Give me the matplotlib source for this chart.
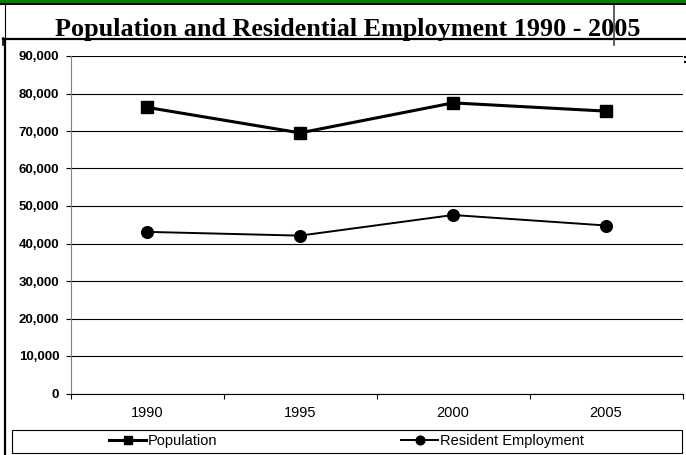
import matplotlib
matplotlib.use('Agg')
import matplotlib.pyplot as plt
from matplotlib.lines import Line2D
from matplotlib.patches import Rectangle
from matplotlib.ticker import FuncFormatter, FixedLocator

# ---- data ----
years = ['1990', '1995', '2000', '2005']
population = [76300, 69500, 77500, 75300]
employment = [43100, 42100, 47600, 44800]
y_ticks = [0, 10000, 20000, 30000, 40000, 50000, 60000, 70000, 80000, 90000]
title = 'Population and Residential Employment 1990 - 2005'
series_labels = ['Population', 'Resident Employment']

W, H = 686, 455
fig = plt.figure(figsize=(W / 100, H / 100), dpi=100)


def fx(x):
    return x / W


def fy(y):
    return 1 - y / H


# ---- decorations ----
fig.add_artist(Rectangle((0, fy(2.5)), 1, fy(0) - fy(2.5), transform=fig.transFigure,
                         facecolor='#008000', edgecolor='none'))
fig.add_artist(Rectangle((0, fy(4.5)), 1, fy(2.5) - fy(4.5), transform=fig.transFigure,
                         facecolor='black', edgecolor='none'))
fig.add_artist(Line2D([fx(5), fx(5)], [fy(4), fy(39)], transform=fig.transFigure,
                      color='black', lw=0.8))
fig.add_artist(Line2D([fx(5), fx(5)], [fy(39), fy(455)], transform=fig.transFigure,
                      color='black', lw=1.6))
fig.add_artist(Line2D([fx(3), fx(3)], [fy(38), fy(45)], transform=fig.transFigure,
                      color='black', lw=1.2))
fig.add_artist(Line2D([fx(3), fx(686)], [fy(39), fy(39)], transform=fig.transFigure,
                      color='black', lw=1.6))
fig.add_artist(Line2D([fx(613.5), fx(613.5)], [fy(5), fy(45)], transform=fig.transFigure,
                      color='#333333', lw=1.1))
fig.add_artist(Line2D([fx(685), fx(686)], [fy(57), fy(57)], transform=fig.transFigure,
                      color='black', lw=1.5))
fig.add_artist(Line2D([fx(685), fx(686)], [fy(62), fy(62)], transform=fig.transFigure,
                      color='black', lw=1.5))

# ---- title ----
fig.text(fx(347.5), fy(35.7), title, ha='center', va='baseline', fontsize=18.8,
         family='Liberation Serif', fontweight='bold')

# ---- axes ----
ax = fig.add_axes([fx(70.5), fy(393.5), fx(682.5) - fx(70.5), fy(56) - fy(393.5)])
x = list(range(len(years)))
l1, = ax.plot(x, population, color='black', lw=2.2, marker='s', ms=8.4,
              label=series_labels[0], clip_on=False, zorder=3)
l2, = ax.plot(x, employment, color='black', lw=1.4, marker='o', ms=8.4,
              label=series_labels[1], clip_on=False, zorder=3)
ax.set_xlim(-0.5, len(years) - 0.5)
ax.set_ylim(y_ticks[0], y_ticks[-1])
ax.set_yticks(y_ticks)
ax.yaxis.set_major_formatter(FuncFormatter(lambda v, p: f'{int(v):,}'))
ax.grid(axis='y', color='black', lw=0.8)
ax.set_axisbelow(True)
for s in ['top', 'right']:
    ax.spines[s].set_visible(False)
ax.spines['left'].set_color('#808080')
ax.spines['left'].set_linewidth(0.8)
ax.spines['bottom'].set_color('black')
ax.spines['bottom'].set_linewidth(0.8)

ax.set_xticks(x)
ax.set_xticklabels(years, family='Liberation Sans', fontsize=10.5)
ax.xaxis.set_minor_locator(FixedLocator([i - 0.5 for i in range(len(years) + 1)]))
ax.tick_params(axis='x', which='major', length=0, pad=9)
ax.tick_params(axis='x', which='minor', length=3.6, width=0.8, color='black', direction='out')
ax.tick_params(axis='y', length=3.6, width=0.8, color='black', pad=4.5)
for lab in ax.get_yticklabels():
    lab.set_family('Liberation Sans')
    lab.set_fontweight('bold')
    lab.set_fontsize(9.5)

# ---- legend ----
fig.add_artist(Rectangle((fx(11.7), fy(453)), fx(681.7) - fx(11.7), fy(430) - fy(453),
                         transform=fig.transFigure, fill=False, edgecolor='black', lw=0.8))
fig.legend([l1, l2], series_labels, loc='center', bbox_to_anchor=(fx(346.7), fy(441.5)),
           ncol=2, frameon=False, prop={'family': 'Liberation Sans', 'size': 10.5},
           handlelength=2.5, handletextpad=0.15, columnspacing=12.6, borderaxespad=0,
           borderpad=0, markerscale=0.75)

fig.savefig('out.png', dpi=100)
